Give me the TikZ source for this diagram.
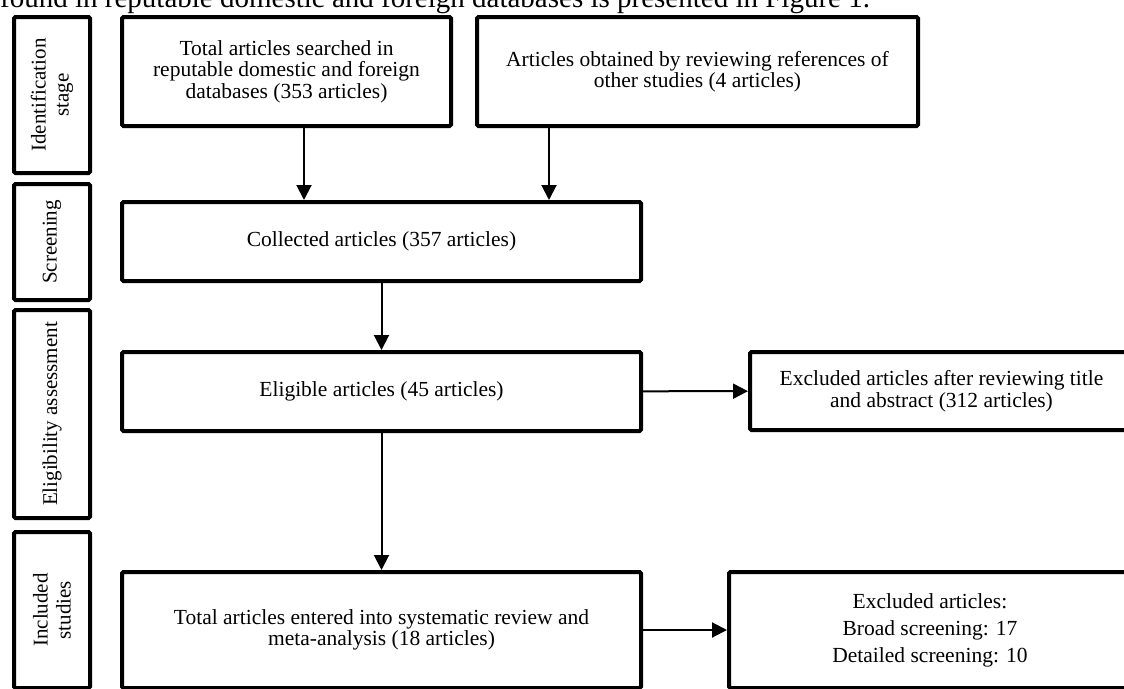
\documentclass[tikz,border=0pt]{standalone}
\usepackage{fontspec}
\setmainfont{Liberation Serif}
\usepackage{tikz}
\usetikzlibrary{positioning, arrows.meta}

\begin{document}
\begin{tikzpicture}[x=1pt, y=-1pt,
    box/.style={draw, line width=4pt, rounded corners=1.5pt, inner sep=0pt,
                align=center, font=\fontsize{21.5}{21.5}\selectfont},
    stagebox/.style={box, rotate=90, font=\fontsize{21}{23}\selectfont},
    arr/.style={line width=2pt, -{Triangle[length=15pt, width=15pt]}}]
    \useasboundingbox (0,0) rectangle (1124,688);

    \node[anchor=base west, inner sep=0pt, font=\fontsize{29}{32}\selectfont] (bodytext) at (0,7)
      {found in reputable domestic and foreign databases is presented in Figure 1.};

    \node[stagebox, minimum width=156pt, minimum height=76pt] (ident) at (52,95) {Identification\\stage};
    \node[stagebox, minimum width=116pt, minimum height=76pt] (screen) at (52,242) {Screening};
    \node[stagebox, minimum width=208pt, minimum height=76pt] (eligass) at (52,414) {Eligibility assessment};
    \node[stagebox, minimum width=156pt, minimum height=76pt] (incl) at (52,610) {Included\\studies};

    \node[box, minimum width=329pt, minimum height=109pt] (searched) at (286.5,71.5)
      {Total articles searched in\\reputable domestic and foreign\\databases (353 articles)};
    \node[box, minimum width=441pt, minimum height=109pt] (refs) at (697.5,71.5)
      {Articles obtained by reviewing references of\\other studies (4 articles)};
    \node[box, minimum width=519pt, minimum height=79pt] (collect) at (381.5,241.5)
      {Collected articles (357 articles)};
    \node[box, minimum width=519pt, minimum height=79pt] (elig) at (381.5,391.5)
      {Eligible articles (45 articles)};
    \node[box, minimum width=519pt, minimum height=116pt] (total) at (381.5,630)
      {Total articles entered into systematic review and\\meta-analysis (18 articles)};
    \node[box, minimum width=383pt, minimum height=78pt] (excltitle) at (941.5,391)
      {Excluded articles after reviewing title\\and abstract (312 articles)};
    \node[box, minimum width=402pt, minimum height=116pt, font=\fontsize{21.5}{27}\selectfont] (exclfull) at (930,630)
      {Excluded articles:\\Broad screening: 17\\Detailed screening: 10};

    \draw[arr] ([xshift=17.5pt]searched.south) -- ([xshift=17.5pt]searched.south |- collect.north);
    \draw[arr] ([xshift=-148.5pt]refs.south) -- ([xshift=-148.5pt]refs.south |- collect.north);
    \draw[arr] (collect) -- (elig);
    \draw[arr] (elig) -- (total);
    \draw[arr] (elig) -- (excltitle);
    \draw[arr] (total) -- (total -| exclfull.west);
  \end{tikzpicture}
\end{document}
